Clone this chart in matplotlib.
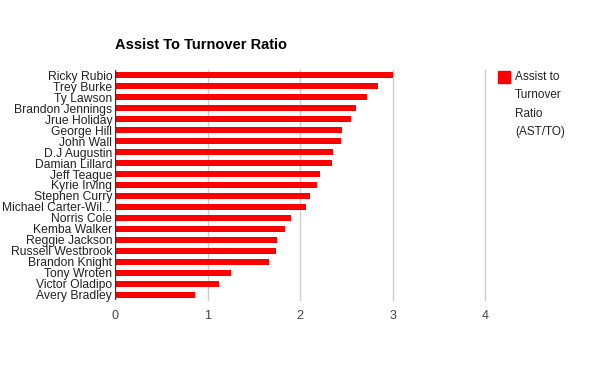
import matplotlib
matplotlib.use("Agg")
import matplotlib.pyplot as plt
from matplotlib.patches import Rectangle

plt.rcParams['font.family'] = ['Liberation Sans', 'DejaVu Sans']

# datos (de arriba hacia abajo)
jugadores = ['Ricky Rubio', 'Trey Burke', 'Ty Lawson', 'Brandon Jennings', 'Jrue Holiday',
             'George Hill', 'John Wall', 'D.J Augustin', 'Damian Lillard', 'Jeff Teague',
             'Kyrie Irving', 'Stephen Curry', 'Michael Carter-Wil...', 'Norris Cole',
             'Kemba Walker', 'Reggie Jackson', 'Russell Westbrook', 'Brandon Knight',
             'Tony Wroten', 'Victor Oladipo', 'Avery Bradley']
ratio = [3.00, 2.84, 2.72, 2.60, 2.55, 2.45, 2.44, 2.36, 2.35, 2.22,
         2.18, 2.11, 2.06, 1.90, 1.84, 1.75, 1.74, 1.67, 1.25, 1.12, 0.86]
ticks_x = [0, 1, 2, 3, 4]
leyenda = 'Assist to\nTurnover\nRatio\n(AST/TO)'

fig = plt.figure(figsize=(6, 3.71), dpi=100)
ax = fig.add_axes([115 / 600, 1 - 300 / 371, 370 / 600, 230 / 371])

pos = list(range(len(jugadores)))
ax.barh(pos, ratio, height=0.55, color='#ff0000', zorder=3)
ax.set_ylim(len(jugadores) - 0.5, -0.5)
ax.set_xlim(0, 4)
ax.set_yticks(pos)
ax.set_yticklabels(jugadores, fontsize=8.7, color='#222222')
ax.set_xticks(ticks_x)
ax.set_xticklabels([str(t) for t in ticks_x], fontsize=9, color='#444444')
ax.tick_params(length=0, pad=2)
ax.tick_params(axis='x', pad=7)

# grid vertical
for t in ticks_x[1:]:
    ax.axvline(t, color='#cccccc', linewidth=1, zorder=1, clip_on=False)
for s in ax.spines.values():
    s.set_visible(False)
ax.axvline(0, color='#333333', linewidth=1, zorder=4)

fig.text(115 / 600, 1 - 45 / 371, 'Assist To Turnover Ratio', fontsize=10.5,
         fontweight='bold', va='center', ha='left', color='#000000')

# leyenda manual
fig.patches.append(Rectangle((498 / 600, 1 - 83 / 371), 12 / 600, 12 / 371,
                             transform=fig.transFigure, color='#ff0000'))
fig.text(515 / 600, 1 - 71 / 371, leyenda, fontsize=8.5, va='top', ha='left',
         color='#222222', linespacing=1.7)

fig.savefig('out.png', dpi=100)
